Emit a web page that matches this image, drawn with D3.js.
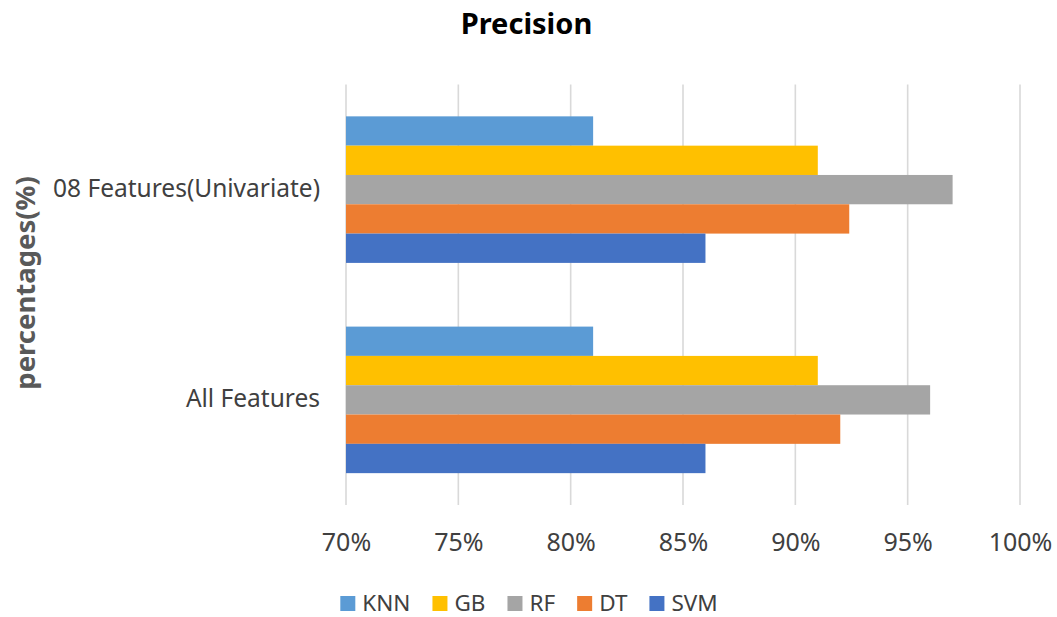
<!DOCTYPE html>
<html>
<head>
<meta charset="utf-8">
<script src="https://cdn.jsdelivr.net/npm/d3@7"></script>
<style>
  html, body { margin: 0; padding: 0; background: #fff; }
  svg { display: block; }
  text { font-family: "Noto Sans", "Open Sans", sans-serif; }
</style>
</head>
<body>
<svg id="chart" width="1057" height="617"></svg>
<script>
// Feature sets (top to bottom) and classifiers (top to bottom within a group)
const categories = ["08 Features(Univariate)", "All Features"];
const models = ["KNN", "GB", "RF", "DT", "SVM"];
const colors = ["#5B9BD5", "#FFC000", "#A5A5A5", "#ED7D31", "#4472C4"];

// Precision (%) per classifier, one value per feature set
const knn = [81, 81];
const gb  = [91, 91];
const rf  = [97, 96];
const dt  = [92.4, 92];
const svm = [86, 86];

const xTicks = [70, 75, 80, 85, 90, 95, 100];

const seriesValues = [knn, gb, rf, dt, svm];
const rows = [];
categories.forEach((cat, ci) => {
  models.forEach((m, mi) => {
    rows.push({ category: cat, model: m, value: seriesValues[mi][ci] });
  });
});

const svg = d3.select("#chart");
const plot = { left: 346, right: 1020, top: 84.5, bottom: 505 };

const x = d3.scaleLinear().domain([70, 100]).range([plot.left, plot.right]);
const y0 = d3.scaleBand().domain(categories).range([plot.top, plot.bottom])
  .paddingInner(0.303).paddingOuter(0.1515);
const y1 = d3.scaleBand().domain(models).range([0, y0.bandwidth()]);
const color = d3.scaleOrdinal().domain(models).range(colors);

// Title
svg.append("text")
  .attr("x", 526.5).attr("y", 33.5)
  .attr("text-anchor", "middle")
  .attr("font-size", 29).attr("font-weight", "bold")
  .attr("fill", "#000")
  .text("Precision");

// Vertical gridlines
svg.append("g")
  .selectAll("line")
  .data(xTicks)
  .join("line")
  .attr("x1", d => x(d)).attr("x2", d => x(d))
  .attr("y1", plot.top).attr("y2", plot.bottom)
  .attr("stroke", "#D9D9D9").attr("stroke-width", 1.6);

// Bars
svg.append("g")
  .selectAll("rect")
  .data(rows)
  .join("rect")
  .attr("x", x(70))
  .attr("y", d => y0(d.category) + y1(d.model))
  .attr("width", d => x(d.value) - x(70))
  .attr("height", y1.bandwidth())
  .attr("fill", d => color(d.model));

// X axis tick labels
const xAxis = d3.axisBottom(x).tickValues(xTicks).tickFormat(d => d + "%").tickSize(0).tickPadding(0);
const gx = svg.append("g").attr("transform", `translate(0, 532)`).call(xAxis);
gx.select(".domain").remove();
gx.selectAll("text")
  .attr("font-family", "'Noto Sans', sans-serif")
  .attr("font-size", 25).attr("fill", "#404040")
  .attr("dy", "0.71em").attr("y", 1);

// Category labels
const yAxis = d3.axisLeft(y0).tickSize(0).tickPadding(26);
const gy = svg.append("g").attr("transform", `translate(${plot.left}, 0)`).call(yAxis);
gy.select(".domain").remove();
gy.selectAll("text")
  .attr("font-family", "'Noto Sans', sans-serif")
  .attr("font-size", 24.5).attr("fill", "#404040")
  .attr("dy", "0.3em");

// Y axis title
svg.append("text")
  .attr("transform", "translate(35, 283) rotate(-90)")
  .attr("text-anchor", "middle")
  .attr("font-size", 27.5).attr("font-weight", "bold")
  .attr("fill", "#595959")
  .text("percentages(%)");

// Legend
const legend = svg.append("g");
const items = legend.selectAll("g").data(models).join("g");
items.append("rect")
  .attr("width", 15).attr("height", 15)
  .attr("y", 596)
  .attr("fill", d => color(d));
items.append("text")
  .attr("x", 22).attr("y", 610.5)
  .attr("font-size", 22.5).attr("fill", "#404040")
  .text(d => d);
let cursor = 0;
const offsets = [];
items.each(function () {
  const w = 22 + d3.select(this).select("text").node().getComputedTextLength();
  offsets.push(cursor);
  cursor += w + 22;
});
const totalW = cursor - 22;
const startX = 529 - totalW / 2;
items.attr("transform", (d, i) => `translate(${startX + offsets[i]}, 0)`);
</script>
</body>
</html>
